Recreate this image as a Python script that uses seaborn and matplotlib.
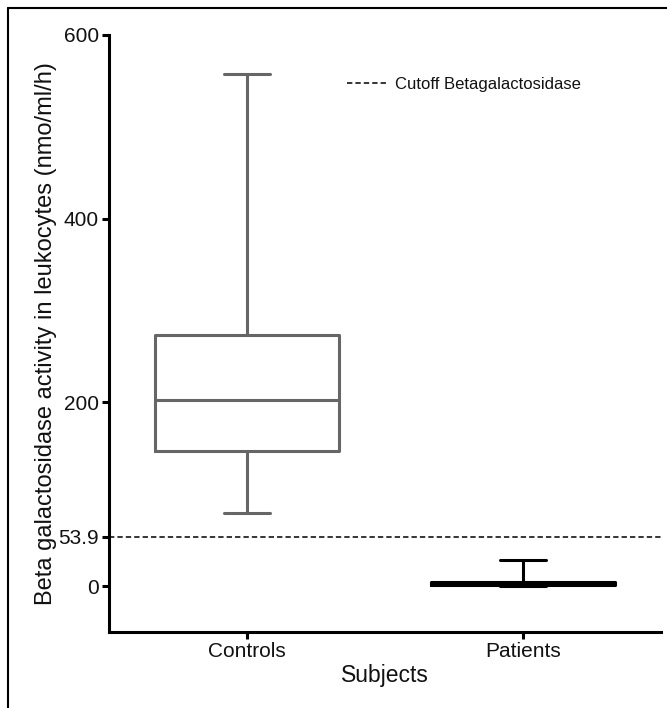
import matplotlib
matplotlib.use("Agg")
import matplotlib.pyplot as plt
from matplotlib.lines import Line2D
import pandas as pd
import seaborn as sns

# --- data ---
subjects = ["Controls", "Patients"]
# five values per group: min, Q1, median, Q3, max (whiskers at min/max)
controls_values = [79.6, 147.4, 202.5, 273.0, 556.8]
patients_values = [0.0, 1.0, 2.5, 4.2, 28.5]
cutoff = 53.9
ytick_values = [0, 53.9, 200, 400, 600]
ytick_labels = ["0", "53.9", "200", "400", "600"]

df = pd.DataFrame({
    "Subjects": [subjects[0]] * len(controls_values) + [subjects[1]] * len(patients_values),
    "activity": controls_values + patients_values,
})

sns.set_style("white")
plt.rcParams["font.family"] = ["Liberation Sans", "DejaVu Sans"]
plt.rcParams["text.color"] = "#111111"
plt.rcParams["axes.labelcolor"] = "#111111"

fig = plt.figure(figsize=(6.67, 7.08), dpi=100)
ax = fig.add_axes([0.163, 0.107, 0.828, 0.844])

sns.boxplot(
    data=df, x="Subjects", y="activity", hue="Subjects",
    palette={"Controls": "#666666", "Patients": "black"},
    order=subjects, fill=False, whis=(0, 100), width=0.665,
    linewidth=2.2, legend=False, ax=ax, capwidths=0.167,
)

ax.axhline(cutoff, color="black", linestyle=(0, (3.5, 2)), linewidth=1.1,
           label="Cutoff Betagalactosidase")

ax.set_xlim(-0.5, 1.5)
ax.set_ylim(-50, 600)
ax.set_yticks(ytick_values)
ax.set_yticklabels(ytick_labels)

for side in ["top", "right"]:
    ax.spines[side].set_visible(False)
for side in ["left", "bottom"]:
    ax.spines[side].set_linewidth(2.2)
    ax.spines[side].set_color("black")

ax.tick_params(axis="both", direction="out", length=5, width=2.2, colors="black",
               labelcolor="#111111", labelsize=15, pad=2, left=True, bottom=True)
ax.set_xlabel("Subjects", fontsize=16.5, labelpad=2)
ax.set_ylabel("Beta galactosidase activity in leukocytes (nmo/ml/h)", fontsize=17, labelpad=1)

ax.legend(loc="center left", bbox_to_anchor=(0.432, 0.917), frameon=False,
          fontsize=12, handlelength=2.4, handletextpad=0.45, borderpad=0, borderaxespad=0)

# outer frame (left and top edges visible in the reference)
fig.add_artist(Line2D([0.0125, 0.0125], [0.0, 0.9886], color="black", lw=1.5,
                      transform=fig.transFigure))
fig.add_artist(Line2D([0.0125, 1.0], [0.9886, 0.9886], color="black", lw=1.5,
                      transform=fig.transFigure))

fig.savefig("out.png", dpi=100)
